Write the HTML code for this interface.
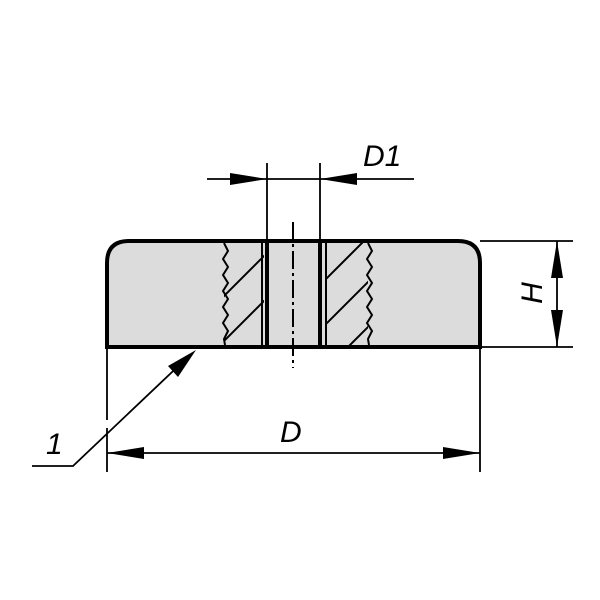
<!DOCTYPE html>
<html><head><style>body{margin:0;background:#fff}svg{display:block}</style></head><body>
<svg width="600" height="600" viewBox="0 0 600 600" xmlns="http://www.w3.org/2000/svg">
<defs>
<clipPath id="hl"><rect x="224" y="243" width="40" height="102"/></clipPath>
<clipPath id="hr"><rect x="325" y="243" width="43" height="102"/></clipPath>
</defs>
<path d="M107,347 L107,263 Q107,241 129,241 L458,241 Q480,241 480,263 L480,347 Z" fill="#dcdcdc" stroke="#000" stroke-width="4"/>
<g stroke="#000" stroke-width="2" fill="none">
<g clip-path="url(#hl)">
<line x1="200" y1="320" x2="290" y2="230"/>
<line x1="200" y1="365" x2="290" y2="275"/>
<line x1="200" y1="410" x2="290" y2="320"/>
</g>
<g clip-path="url(#hr)">
<line x1="300" y1="305" x2="390" y2="215"/>
<line x1="300" y1="350" x2="390" y2="260"/>
<line x1="300" y1="395" x2="390" y2="305"/>
</g>
<path d="M224,243 l4,8 l-5,8 l5,8 l-5,8 l5,8 l-5,8 l5,8 l-5,8 l5,8 l-5,8 l5,8 l-4,8 l1,6"/>
<path d="M368,243 l4,8 l-5,8 l5,8 l-5,8 l5,8 l-5,8 l5,8 l-5,8 l5,8 l-5,8 l5,8 l-4,8 l1,6"/>
<line x1="262" y1="243" x2="262" y2="345"/>
<line x1="326" y1="243" x2="326" y2="345"/>
</g>
<line x1="267" y1="241" x2="267" y2="347" stroke="#000" stroke-width="4"/>
<line x1="320" y1="241" x2="320" y2="347" stroke="#000" stroke-width="4"/>
<line x1="293" y1="222" x2="293" y2="368" stroke="#000" stroke-width="2" stroke-dasharray="18,4,3,4"/>
<g stroke="#000" stroke-width="1.8" fill="none">
<line x1="267" y1="163" x2="267" y2="241"/>
<line x1="320" y1="163" x2="320" y2="241"/>
<line x1="207" y1="179" x2="414" y2="179"/>
<line x1="480" y1="241" x2="573" y2="241"/>
<line x1="480" y1="347" x2="573" y2="347"/>
<line x1="557" y1="241" x2="557" y2="347"/>
<line x1="107" y1="347" x2="107" y2="420"/>
<line x1="107" y1="428" x2="107" y2="472"/>
<line x1="480" y1="347" x2="480" y2="472"/>
<line x1="107" y1="453" x2="480" y2="453"/>
<polyline points="32,466 73,466 190,355"/>
</g>
<g fill="#000">
<polygon points="267,179 230,173 230,185"/>
<polygon points="320,179 357,173 357,185"/>
<polygon points="557,241 551,278 563,278"/>
<polygon points="557,347 551,310 563,310"/>
<polygon points="107,453 144,447 144,459"/>
<polygon points="480,453 443,447 443,459"/>
<polygon points="196,350 168,366 178,377"/>
</g>
<g font-family="Liberation Sans, sans-serif" font-style="italic" font-size="30" fill="#000">
<text x="363" y="166">D1</text>
<text x="280" y="442">D</text>
<text x="46" y="454">1</text>
<text transform="translate(542,293) rotate(-90)" text-anchor="middle">H</text>
</g>
</svg>
</body></html>
